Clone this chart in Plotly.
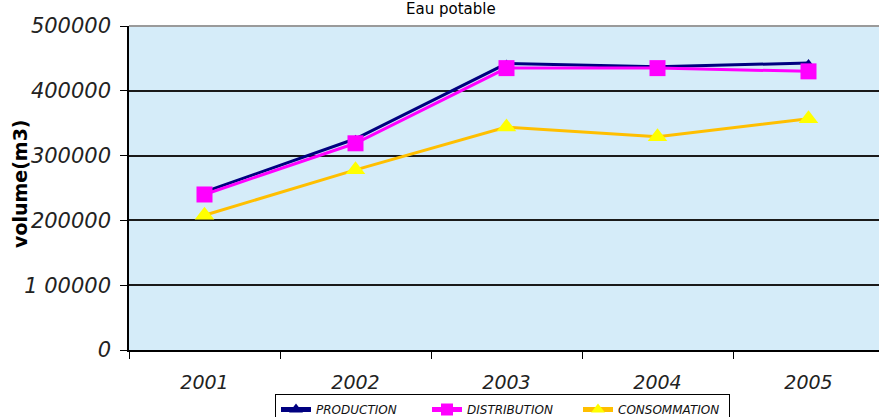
import plotly.graph_objects as go

# Annual volumes of drinking water (m3)
years = ["2001", "2002", "2003", "2004", "2005"]
production = [244000, 326000, 442000, 437000, 443000]
distribution = [240000, 319000, 435000, 435000, 430000]
consommation = [208000, 278000, 344000, 329000, 357000]

y_ticks = [0, 100000, 200000, 300000, 400000, 500000]
y_tick_labels = ["0", "1 00000", "200000", "300000", "400000", "500000"]

W, H = 879, 417
L, T, B = 129, 26, 67
step = 151  # pixels per category slot
plot_w = W - L
plot_h = H - T - B
x_max = -0.5 + plot_w / step

FONT = "DejaVu Sans, Verdana, sans-serif"

fig = go.Figure()

fig.add_trace(go.Scatter(
    x=years, y=production, name="PRODUCTION", mode="lines+markers",
    line=dict(color="#000080", width=3),
    marker=dict(symbol="triangle-up", size=8, color="#000080"),
))
fig.add_trace(go.Scatter(
    x=years, y=distribution, name="DISTRIBUTION", mode="lines+markers",
    line=dict(color="#ff00ff", width=3),
    marker=dict(symbol="square", size=16, color="#ff00ff"),
))
fig.add_trace(go.Scatter(
    x=years, y=consommation, name="CONSOMMATION", mode="lines+markers",
    line=dict(color="#ffbf00", width=3),
    marker=dict(symbol="triangle-up", size=17, color="#ffff00"),
))

fig.update_layout(
    width=W, height=H,
    margin=dict(l=L, r=0, t=T, b=B, autoexpand=False),
    paper_bgcolor="white",
    plot_bgcolor="#d5ecf9",
    showlegend=True,
    legend=dict(
        orientation="h",
        xref="container", yref="container",
        x=275 / W, xanchor="left",
        y=1 - 394 / H, yanchor="top",
        bgcolor="white", bordercolor="black", borderwidth=1,
        font=dict(family=FONT, size=12, color="#111111", style="italic"),
        itemsizing="constant",
        entrywidth=106, entrywidthmode="pixels",
        tracegroupgap=0,
    ),
    xaxis=dict(
        type="category", range=[-0.5, x_max],
        showline=True, linecolor="black", linewidth=1.5,
        ticks="outside", tickson="boundaries", ticklen=7, tickcolor="black",
        tickfont=dict(family=FONT, size=19, color="#222222", style="italic"),
        showgrid=False, zeroline=False,
        ticklabelstandoff=14,
    ),
    yaxis=dict(
        range=[0, 500000],
        tickvals=y_ticks, ticktext=y_tick_labels,
        showline=True, linecolor="black", linewidth=1.5,
        ticks="outside", ticklen=7, tickcolor="black",
        tickfont=dict(family=FONT, size=21, color="#222222", style="italic"),
        ticklabelstandoff=5,
        showgrid=True, gridcolor="#1a1a1a", gridwidth=1.5,
        zeroline=False,
    ),
    shapes=[dict(type="line", xref="paper", yref="paper", x0=0, x1=1, y0=1, y1=1,
                 line=dict(color="#9a9a9a", width=2))],
    annotations=[
        dict(text="Eau potable", xref="paper", yref="paper",
             x=(451 - L) / plot_w, y=1 + 6 / plot_h,
             xanchor="center", yanchor="bottom", showarrow=False,
             font=dict(family=FONT, size=15, color="black")),
        dict(text="volume(m3)", xref="paper", yref="paper",
             x=-(L - 20) / plot_w, y=(350 - 184) / plot_h,
             xanchor="center", yanchor="middle", textangle=-90, showarrow=False,
             font=dict(family=FONT, size=19, color="black", weight="bold")),
    ],
)

fig.write_html("out.html")
